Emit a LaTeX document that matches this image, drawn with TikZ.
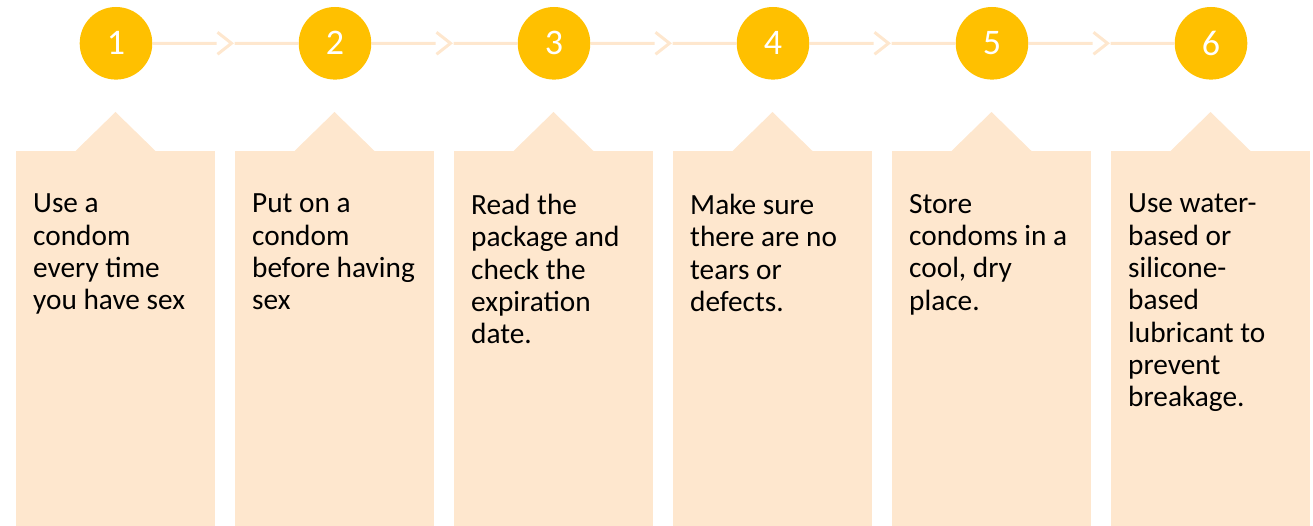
\documentclass[tikz,border=0pt]{standalone}
\usepackage{fontspec}
\setmainfont{Carlito}
\usetikzlibrary{calc}
\definecolor{stepgold}{HTML}{FFC000}
\definecolor{peach}{HTML}{FEE7CE}

\begin{document}
\begin{tikzpicture}[
    x=1pt, y=-1pt,
    stepcircle/.style={
        circle, fill=stepgold, minimum size=72.6pt, inner sep=0pt,
        text=white, font=\fontsize{36}{40}\selectfont
    },
    card/.style={
        rectangle, fill=peach, minimum width=199pt, minimum height=375pt,
        inner sep=0pt, outer sep=0pt
    },
    cardtext/.style={
        anchor=north west, align=left, inner sep=0pt,
        font=\fontsize{29.3}{32.3}\selectfont,
        execute at begin node=\strut
    },
    link/.style={draw=peach, line width=3pt},
    chev/.style={draw=peach, line width=3pt, line join=miter}
]
\useasboundingbox (0,0) rectangle (1313,526);

% Numbered steps along the top
\node[stepcircle] (c1) at (116, 43.3) {1};
\node[stepcircle] (c2) at (335, 43.3) {2};
\node[stepcircle] (c3) at (554, 43.3) {3};
\node[stepcircle] (c4) at (773, 43.3) {4};
\node[stepcircle] (c5) at (992, 43.3) {5};
\node[stepcircle] (c6) at (1211, 43.3) {6};

% Connectors with a chevron halfway
\coordinate (m12) at ($(c1)!0.5!(c2)$);
\coordinate (m23) at ($(c2)!0.5!(c3)$);
\coordinate (m34) at ($(c3)!0.5!(c4)$);
\coordinate (m45) at ($(c4)!0.5!(c5)$);
\coordinate (m56) at ($(c5)!0.5!(c6)$);

\draw[link] (c1) -- ([xshift=-9pt]m12);
\draw[chev] ([xshift=-8pt, yshift=11pt]m12) -- ([xshift=6pt]m12)
    -- ([xshift=-8pt, yshift=-11pt]m12);
\draw[link] ([xshift=9pt]m12) -- (c2);

\draw[link] (c2) -- ([xshift=-9pt]m23);
\draw[chev] ([xshift=-8pt, yshift=11pt]m23) -- ([xshift=6pt]m23)
    -- ([xshift=-8pt, yshift=-11pt]m23);
\draw[link] ([xshift=9pt]m23) -- (c3);

\draw[link] (c3) -- ([xshift=-9pt]m34);
\draw[chev] ([xshift=-8pt, yshift=11pt]m34) -- ([xshift=6pt]m34)
    -- ([xshift=-8pt, yshift=-11pt]m34);
\draw[link] ([xshift=9pt]m34) -- (c4);

\draw[link] (c4) -- ([xshift=-9pt]m45);
\draw[chev] ([xshift=-8pt, yshift=11pt]m45) -- ([xshift=6pt]m45)
    -- ([xshift=-8pt, yshift=-11pt]m45);
\draw[link] ([xshift=9pt]m45) -- (c5);

\draw[link] (c5) -- ([xshift=-9pt]m56);
\draw[chev] ([xshift=-8pt, yshift=11pt]m56) -- ([xshift=6pt]m56)
    -- ([xshift=-8pt, yshift=-11pt]m56);
\draw[link] ([xshift=9pt]m56) -- (c6);

% Cards below the circles
\node[card] (b1) at (115.5, 338.5) {};
\node[card] (b2) at (334.5, 338.5) {};
\node[card] (b3) at (553.5, 338.5) {};
\node[card] (b4) at (772.5, 338.5) {};
\node[card] (b5) at (991.5, 338.5) {};
\node[card] (b6) at (1210.5, 338.5) {};

% Pointed tabs on top of each card
\fill[peach] ([xshift=-40pt]b1.north) -- ([yshift=39pt]b1.north)
    -- ([xshift=40pt]b1.north) -- cycle;
\fill[peach] ([xshift=-40pt]b2.north) -- ([yshift=39pt]b2.north)
    -- ([xshift=40pt]b2.north) -- cycle;
\fill[peach] ([xshift=-40pt]b3.north) -- ([yshift=39pt]b3.north)
    -- ([xshift=40pt]b3.north) -- cycle;
\fill[peach] ([xshift=-40pt]b4.north) -- ([yshift=39pt]b4.north)
    -- ([xshift=40pt]b4.north) -- cycle;
\fill[peach] ([xshift=-40pt]b5.north) -- ([yshift=39pt]b5.north)
    -- ([xshift=40pt]b5.north) -- cycle;
\fill[peach] ([xshift=-40pt]b6.north) -- ([yshift=39pt]b6.north)
    -- ([xshift=40pt]b6.north) -- cycle;

% Card texts (strut top sits 0.7 baselineskip above the first baseline)
\node[cardtext] (t1) at ([xshift=17pt, yshift=-43pt]b1.north west)
    {Use a\\condom\\every time\\you have sex};
\node[cardtext] (t2) at ([xshift=17pt, yshift=-43pt]b2.north west)
    {Put on a\\condom\\before having\\sex};
\node[cardtext] (t3) at ([xshift=17pt, yshift=-43pt]b3.north west)
    {Read the\\package and\\check the\\expiration\\date.};
\node[cardtext] (t4) at ([xshift=17pt, yshift=-43pt]b4.north west)
    {Make sure\\there are no\\tears or\\defects.};
\node[cardtext] (t5) at ([xshift=17pt, yshift=-43pt]b5.north west)
    {Store\\condoms in a\\cool, dry\\place.};
\node[cardtext] (t6) at ([xshift=17pt, yshift=-43pt]b6.north west)
    {Use water-\\based or\\silicone-\\based\\lubricant to\\prevent\\breakage.};

\end{tikzpicture}
\end{document}
